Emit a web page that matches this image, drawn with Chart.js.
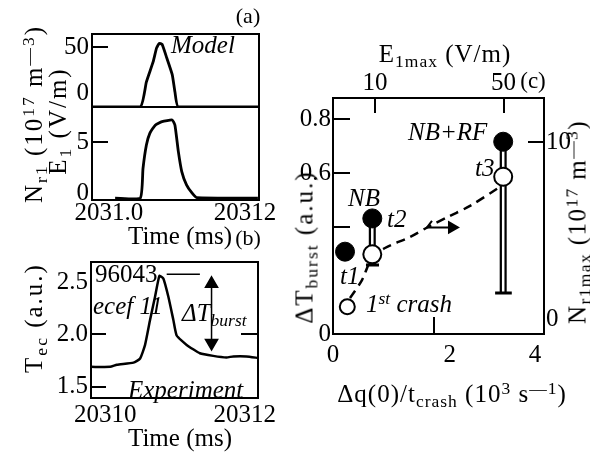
<!DOCTYPE html>
<html>
<head>
<meta charset="utf-8">
<script src="https://cdn.jsdelivr.net/npm/chart.js@4.4.0/dist/chart.umd.min.js"></script>
<style>
  body { margin: 0; background: #fff; }
  #wrap { position: relative; width: 590px; height: 455px; overflow: hidden;
          font-family: "Liberation Serif", "Times New Roman", serif; font-size: 25px; color: #000; }
  canvas { position: absolute; left: 0; top: 0; }
  .t { position: absolute; white-space: nowrap; line-height: 1; transform: translate(-50%, -50%); }
  .l { transform: translateY(-50%); }
  .r { transform: translate(-50%, -50%) rotate(-90deg); }
  .i { font-style: italic; }
  .sb { font-size: 0.7em; position: relative; top: 0.3em; }
  .sp { font-size: 0.7em; position: relative; top: -0.45em; }
</style>
</head>
<body>
<div id="wrap">
  <canvas id="a1" width="590" height="455"></canvas>
  <canvas id="a2" width="590" height="455"></canvas>
  <canvas id="b" width="590" height="455"></canvas>
  <canvas id="c" width="590" height="455"></canvas>

  <!-- panel (a) -->
  <div class="t" style="left:248px;top:16px;font-size:22px">(a)</div>
  <div class="t l i" style="left:171px;top:44px">Model</div>
  <div class="t r" style="left:33px;top:114px;letter-spacing:2px">N<span class="sb">r1</span> (10<span class="sp">17</span> m<span class="sp">—3</span>)</div>
  <div class="t r" style="left:57px;top:121px;letter-spacing:2px">E<span class="sb">1</span> (V/m)</div>
  <div class="t" style="left:180px;top:235px">Time (ms)</div>

  <!-- panel (b) -->
  <div class="t" style="left:248px;top:238px;font-size:22px">(b)</div>
  <div class="t l" style="left:95px;top:273px">96043</div>
  <div class="t l i" style="left:93px;top:305px">ecef 11</div>
  <div class="t l i" style="left:182px;top:312px">ΔT<span class="sb">burst</span></div>
  <div class="t l i" style="left:128px;top:389px">Experiment</div>
  <div class="t r" style="left:33px;top:318px;letter-spacing:2px">T<span class="sb">ec</span> (a.u.)</div>
  <div class="t" style="left:180px;top:437px">Time (ms)</div>

  <!-- panel (c) -->
  <div class="t" style="left:445px;top:53px;letter-spacing:1px">E<span class="sb">1max</span> (V/m)</div>
  <div class="t" style="left:533px;top:80px;font-size:23px">(c)</div>
  <div class="t l i" style="left:408px;top:131px">NB+RF</div>
  <div class="t l i" style="left:475px;top:167px">t3</div>
  <div class="t l i" style="left:348px;top:197px">NB</div>
  <div class="t l i" style="left:387px;top:218px">t2</div>
  <div class="t l i" style="left:340px;top:275px">t1</div>
  <div class="t l i" style="left:366px;top:303px">1<span class="sp">st</span> crash</div>
  <div class="t" style="left:452px;top:393px;letter-spacing:1px">Δq(0)/t<span class="sb">crash</span> (10<span class="sp">3</span> s<span class="sp">—1</span>)</div>
  <div class="t r" style="left:304px;top:247px;letter-spacing:2px">ΔT<span class="sb">burst</span> (a.u.)</div>
  <div class="t r" style="left:577px;top:222px;letter-spacing:1.4px">N<span class="sb">r1max</span> (10<span class="sp">17</span> m<span class="sp">—3</span>)</div>
</div>

<script>
// ---- panel (a) model traces ----
const modelTimeE = [20310.975, 20311.046, 20311.055, 20311.065, 20311.070, 20311.074, 20311.078, 20311.085, 20311.093, 20311.097, 20311.102, 20311.22];
const modelE1 = [-15, -15, 12, 34, 49, 54, 53, 38, 20, 1, -15, -15];
const modelTimeN = [20311.009, 20311.046, 20311.050, 20311.055, 20311.060, 20311.068, 20311.078, 20311.093, 20311.097, 20311.102, 20311.107, 20311.114, 20311.122, 20311.129, 20311.219];
const modelNr1 = [-0.5, -0.5, 2.4, 4.7, 5.85, 6.65, 7.0, 7.15, 6.65, 4.05, 2.1, 0.8, 0, -0.45, -0.5];

// ---- panel (b) experiment ----
const expTime = [20309.8, 20310.071, 20310.167, 20310.405, 20310.5, 20310.571, 20310.643, 20310.714, 20310.776, 20310.833, 20310.905, 20310.976, 20311.024, 20311.167, 20311.357, 20311.548, 20311.738, 20311.833, 20312.024, 20312.19];
const expTec = [1.69, 1.69, 1.71, 1.73, 1.77, 1.90, 2.14, 2.36, 2.56, 2.535, 2.36, 2.14, 1.99, 1.90, 1.82, 1.795, 1.78, 1.79, 1.79, 1.775];
const burstRefTime = [20310.881, 20311.357];
const burstRefTec = [2.576, 2.576];
const burstArrowTime = [20311.524, 20311.524];
const burstArrowTec = [2.484, 1.919];

// ---- panel (c) ----
const dqFilled = [0.238, 0.778, 3.37];      // t1, t2 (NB), t3 (NB+RF)
const dTburst = [0.307, 0.431, 0.717];
const dqOpen = [0.283, 0.778, 3.37];        // 1st crash, t2, t3
const nr1max = [1.42, 4.15, 8.19];
const barDq = [0.778, 0.778, null, 3.37, 3.37];
const barN = [6.03, 3.59, null, 10.02, 2.14];
const capDq = [0.653, 0.911, null, 3.21, 3.54];
const capN = [3.59, 3.59, null, 2.14, 2.14];
const fitDq = [0.337, 0.574, 0.772, 1.03, 1.525, 1.92, 2.317, 2.713, 3.307];
const fitN = [1.875, 2.81, 3.96, 4.48, 5.05, 5.625, 6.15, 6.67, 7.66];
const arrowDq = [1.96, 1.86, 2.356];
const arrowN = [5.89, 5.55, 5.55];

// tick labels
const aTopTicks = [0, 50];
const aBotTicks = [0, 5];
const aTimeTicks = [20311.0, 20311.2];
const aTimeLabels = ['2031.0', '20312'];
const bTecTicks = [1.5, 2.0, 2.5];
const bTecLabels = ['1.5', '2.0', '2.5'];
const bTimeTicks = [20310, 20312];
const cDqTicks = [0, 2, 4];
const cDqLabels = ['0', '\u2003 2', '4'];
const cETicks = [10, 50];
const cBurstTicks = [0, 0.4, 0.6, 0.8];
const cBurstLabels = ['0', '', '0.6', '0.8'];
const cNTicks = [0, 10];
const cNLabels = [['0', ''], '10'];

Chart.defaults.font.family = '"Liberation Serif", "Times New Roman", serif';
Chart.defaults.font.size = 25;
Chart.defaults.color = '#000';

// fixed axis band sizes, so the plot boxes land where the layout padding says
const SIZE = { left: 60, right: 44, top: 30, bottom: 40 };

const pts = (xs, ys) => xs.map((x, i) => ({ x: x, y: ys[i] }));

function axis(position, min, max, vals, labels, marks, tl, pad) {
  const a = {
    type: 'linear', position: position, min: min, max: max,
    afterFit: s => { if (s.isHorizontal()) s.height = SIZE[position]; else s.width = SIZE[position]; },
    grid: {
      drawOnChartArea: false, drawTicks: tl !== 0, tickLength: tl, lineWidth: 2,
      color: c => (c.tick && marks.includes(c.tick.value)) ? '#000' : 'rgba(0,0,0,0)'
    },
    border: { display: true, color: '#000', width: 2 },
    ticks: {
      display: !!labels, autoSkip: false, maxRotation: 0, minRotation: 0, padding: pad,
      callback: (v, i) => labels ? labels[i] : ''
    }
  };
  if (vals) a.afterBuildTicks = s => { s.ticks = vals.map(v => ({ value: v })); };
  return a;
}

function line(data, extra) {
  return Object.assign({ data: data, showLine: true, pointRadius: 0, borderColor: '#000',
    borderWidth: 2.5, tension: 0.15 }, extra);
}

// box = plot frame in page pixels
function make(id, box, scales, datasets) {
  return new Chart(document.getElementById(id), {
    type: 'scatter',
    data: { datasets: datasets },
    options: {
      responsive: false, animation: false,
      layout: { padding: {
        left: box.l - SIZE.left, top: box.t - SIZE.top,
        right: 590 - box.r - SIZE.right, bottom: 455 - box.b - SIZE.bottom } },
      plugins: { legend: { display: false }, tooltip: { enabled: false } },
      scales: scales
    }
  });
}

// (a) upper: E1
make('a1', { l: 92, t: 34, r: 259, b: 107 }, {
  x: axis('bottom', 20310.975, 20311.2206, null, null, [], 0, 0),
  x2: axis('top', 20310.975, 20311.2206, null, null, [], 0, 0),
  y: axis('left', -15.2, 64.1, aTopTicks, aTopTicks.map(String), [50], -16, 19),
  y2: axis('right', -15.2, 64.1, null, null, [], 0, 0)
}, [
  line(pts(modelTimeE, modelE1), { xAxisID: 'x', yAxisID: 'y', borderWidth: 2.8 })
]);

// (a) lower: Nr1
make('a2', { l: 92, t: 107, r: 259, b: 200 }, {
  x: axis('bottom', 20310.975, 20311.2206, aTimeTicks, aTimeLabels, [], 0, -2),
  x2: axis('top', 20310.975, 20311.2206, null, null, [], 0, 0),
  y: axis('left', -0.69, 8.43, aBotTicks, aBotTicks.map(String), [5], -16, 19),
  y2: axis('right', -0.69, 8.43, null, null, [], 0, 0)
}, [
  line(pts(modelTimeN, modelNr1), { xAxisID: 'x', yAxisID: 'y', borderWidth: 2.8 })
]);

// (b) experiment
make('b', { l: 91, t: 262, r: 258, b: 398 }, {
  x: axis('bottom', 20309.796, 20312.19, bTimeTicks, bTimeTicks.map(String), [], 0, 2),
  x2: axis('top', 20309.796, 20312.19, null, null, [], 0, 0),
  y: axis('left', 1.392, 2.693, bTecTicks, bTecLabels, [1.5, 2.0], -15, 18),
  y2: axis('right', 1.392, 2.693, [2.0], null, [2.0], -17, 0)
}, [
  line(pts(burstArrowTime, burstArrowTec), { xAxisID: 'x', yAxisID: 'y', borderWidth: 1.5, tension: 0,
    pointStyle: 'triangle', pointRadius: 7, pointRotation: [0, 180],
    pointBackgroundColor: '#000', pointBorderColor: '#000' }),
  line(pts(burstRefTime, burstRefTec), { xAxisID: 'x', yAxisID: 'y', borderWidth: 1.5, tension: 0 }),
  line(pts(expTime, expTec), { xAxisID: 'x', yAxisID: 'y', borderWidth: 2.5 })
]);

// (c) scaling
make('c', { l: 333, t: 98, r: 544, b: 334 }, {
  x: axis('bottom', 0, 4.178, cDqTicks, cDqLabels, [2], -17, 23.5),
  x2: axis('top', -3.07, 62.6, cETicks, cETicks.map(String), [10, 50], -15, 14.5),
  y: axis('left', 0, 0.88, cBurstTicks, cBurstLabels, [0.4, 0.6, 0.8], -17, 19),
  y2: axis('right', 0, 12.29, cNTicks, cNLabels, [10], -16, 18)
}, [
  { data: pts(dqFilled, dTburst), xAxisID: 'x', yAxisID: 'y', order: 0, pointStyle: 'circle',
    pointRadius: 9.5, pointBackgroundColor: '#000', pointBorderColor: '#000' },
  { data: pts(dqOpen, nr1max), xAxisID: 'x', yAxisID: 'y2', order: 0, pointStyle: 'circle',
    pointRadius: [7.5, 9, 9], pointBackgroundColor: '#fff', pointBorderColor: '#000', pointBorderWidth: 2 },
  line(pts(capDq, capN), { xAxisID: 'x', yAxisID: 'y2', order: 1, borderWidth: 3, tension: 0 }),
  line(pts(barDq, barN), { xAxisID: 'x', yAxisID: 'y2', order: 2, borderWidth: 2.5, borderColor: '#fff', tension: 0 }),
  line(pts(barDq, barN), { xAxisID: 'x', yAxisID: 'y2', order: 3, borderWidth: 7, tension: 0 }),
  line(pts(fitDq, fitN), { xAxisID: 'x', yAxisID: 'y2', order: 4, borderWidth: 2.5, borderDash: [9, 6], tension: 0.3 }),
  line(pts(arrowDq, arrowN), { xAxisID: 'x', yAxisID: 'y2', order: 4, borderWidth: 2, tension: 0,
    pointStyle: 'triangle', pointRadius: [0, 0, 6], pointRotation: 90,
    pointBackgroundColor: '#000', pointBorderColor: '#000' })
]);
</script>
</body>
</html>
